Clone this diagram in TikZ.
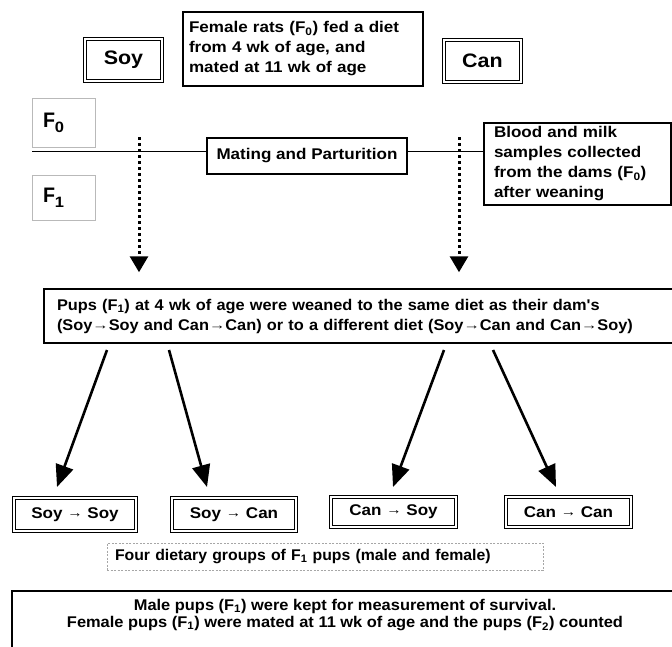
\documentclass[tikz,border=0pt]{standalone}
\usepackage{fontspec}
\setmainfont{Liberation Sans}[FakeStretch=1.1]
\newfontfamily\pupsfam{Liberation Sans}[FakeStretch=1.055]
\newfontfamily\fourfam{Liberation Sans}[FakeStretch=1.02]
\newfontfamily\malefam{Liberation Sans}[FakeStretch=1.06]
\usetikzlibrary{arrows.meta}
\newcommand{\bodyfnt}{\bfseries\fontsize{15.5}{20}\selectfont}
\newcommand{\bigfnt}{\bfseries\fontsize{19.5}{22}\selectfont}
\newcommand{\genfnt}{\bfseries\fontsize{21}{24}\selectfont}
\newcommand{\sarr}{\raisebox{0.1ex}{\scalebox{1.0}[0.8]{\mdseries →}}}
\newcommand{\garr}{\raisebox{0.1ex}{\scalebox{0.9}{\mdseries →}}}
\newcommand{\gsub}[1]{\raisebox{-0.45ex}{\fontsize{15}{15}\selectfont #1}}
\begin{document}
\begin{tikzpicture}[x=1pt,y=-1pt,
  every node/.style={font=\bodyfnt, inner sep=0pt},
  box/.style={draw, line width=1.5pt},
  dbox/.style={draw, double=white, line width=0.9pt, double distance=1.6pt},
  gbox/.style={draw=gray!55, line width=0.6pt},
  dashbox/.style={draw=gray!70, dash pattern=on 2pt off 1.5pt, line width=0.6pt},
  dotline/.style={line width=3pt, dash pattern=on 3pt off 3pt, -{Triangle[width=18pt,length=16pt]}},
  solidarr/.style={line width=2.6pt, -{Triangle[width=18pt,length=22pt]}},
  hline/.style={line width=1pt}]
\clip (0,0) rectangle (672,646);
\fill[white] (0,0) rectangle (672,646);

% top row
\node[dbox, minimum width=77pt, minimum height=42pt, font=\bigfnt] (soy) at (123.5,60) {Soy};
\node[box, text width=228pt, inner xsep=6pt, minimum height=74pt, align=left] (female) at (303,49)
  {Female rats (F\textsubscript{0}) fed a diet\\from 4 wk of age, and\\mated at 11 wk of age};
\node[dbox, minimum width=77pt, minimum height=42pt, font=\bigfnt] (can) at (482.5,61) {Can};

% generation labels
\node[gbox, text width=41pt, inner xsep=11pt, minimum height=49pt, align=left, font=\genfnt] (f0) at (63.5,122.5) {\scalebox{0.85}[1]{F}\gsub{0}};
\node[gbox, text width=41pt, inner xsep=11pt, minimum height=45pt, align=left, font=\genfnt] (f1) at (63.5,197.5) {\scalebox{0.85}[1]{F}\gsub{1}};

% mating line
\node[box, line width=1.3pt, minimum width=200pt, minimum height=36pt] (mating) at (307,156) {Mating and Parturition};
\node[box, text width=167pt, inner xsep=10pt, minimum height=82pt, align=left] (blood) at (577.5,164)
  {Blood and milk\\samples collected\\from the dams (F\textsubscript{0})\\after weaning};
\coordinate (hl) at (32,151);
\draw[hline] (hl) -- (hl -| mating.west);
\draw[hline] (mating.east |- hl) -- (hl -| blood.west);

% pups box
\node[box, text width=630pt, inner xsep=13pt, minimum height=54pt, align=left, font=\pupsfam\bodyfnt] (pups) at (372,316)
  {Pups (F\textsubscript{1}) at 4 wk of age were weaned to the same diet as their dam's\\
   (Soy\sarr Soy and Can\sarr Can) or to a different diet (Soy\sarr Can and Can\sarr Soy)};

% dotted arrows
\coordinate (d1s) at (139,137);
\coordinate (d2s) at (459,137);
\draw[dotline, shorten >=16pt] (d1s) -- (d1s |- pups.north);
\draw[dotline, shorten >=16pt] (d2s) -- (d2s |- pups.north);

% group boxes
\node[dbox, minimum width=122pt, minimum height=33pt] (g1) at (75,514.5) {Soy \garr\ Soy};
\node[dbox, minimum width=124pt, minimum height=33pt] (g2) at (234,514.5) {Soy \garr\ Can};
\node[dbox, minimum width=125pt, minimum height=30pt] (g3) at (393.5,512) {Can \garr\ Soy};
\node[dbox, minimum width=125pt, minimum height=30pt] (g4) at (568.5,512) {Can \garr\ Can};

% solid arrows
\coordinate (a1s) at (107,350); \coordinate (a1e) at (57,487);
\coordinate (a2s) at (169,350); \coordinate (a2e) at (207,487);
\coordinate (a3s) at (444,350); \coordinate (a3e) at (393,487);
\coordinate (a4s) at (493,350); \coordinate (a4e) at (556,487);
\draw[solidarr] (a1s) -- (a1e);
\draw[solidarr] (a2s) -- (a2e);
\draw[solidarr] (a3s) -- (a3e);
\draw[solidarr] (a4s) -- (a4e);

% four dietary groups
\node[dashbox, text width=420pt, inner xsep=8pt, minimum height=27pt, align=left, font=\fourfam\bodyfnt] (four) at (325,556.5)
  {Four dietary groups of F\textsubscript{1} pups (male and female)};

% bottom box
\coordinate (mtl) at (12,591);
\draw[box] (mtl) rectangle ++(700,120);
\node[anchor=north, align=center, font=\malefam\bfseries\fontsize{15.5}{17}\selectfont] (male) at (345,599)
  {Male pups (F\textsubscript{1}) were kept for measurement of survival.\\
   Female pups (F\textsubscript{1}) were mated at 11 wk of age and the pups (F\textsubscript{2}) counted};
\end{tikzpicture}
\end{document}
